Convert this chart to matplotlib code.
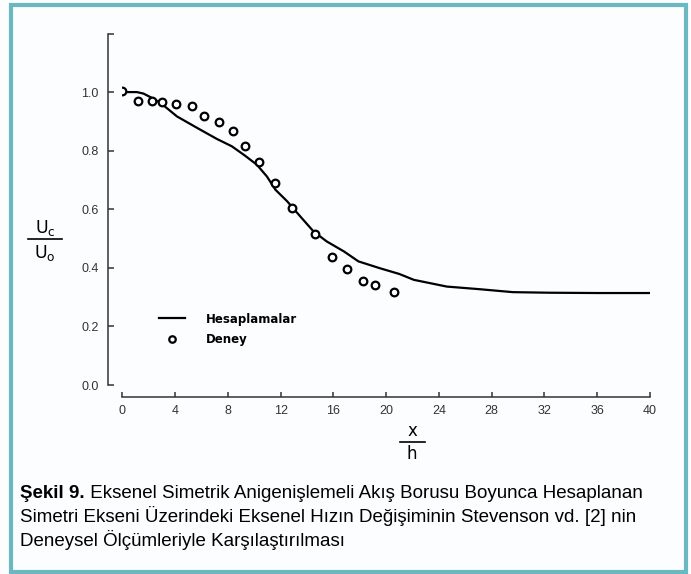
import numpy as np
import matplotlib
matplotlib.use('Agg')
import matplotlib.pyplot as plt
from matplotlib.patches import Rectangle
from matplotlib.lines import Line2D

# Deney (experiment) points
deney_x = [0.0, 1.16, 2.25, 3.03, 4.09, 5.25, 6.23, 7.30, 8.36, 9.30,
           10.36, 11.57, 12.90, 14.57, 15.91, 17.07, 18.23, 19.19, 20.61]
deney_y = [1.002, 0.971, 0.971, 0.967, 0.961, 0.951, 0.917, 0.898, 0.868, 0.817,
           0.761, 0.691, 0.605, 0.514, 0.438, 0.397, 0.355, 0.340, 0.316]

# Hesaplamalar (computed) curve
hesap_x = [0.0, 1.1, 1.6, 2.25, 2.9, 4.14, 5.66, 7.17, 8.3, 9.3, 10.2, 10.96,
           11.6, 12.5, 13.5, 14.5, 15.5, 16.8, 17.9, 19.5, 21.0, 22.1, 24.6,
           27.1, 29.6, 32.4, 36.0, 40.0]
hesap_y = [1.0, 1.0, 0.995, 0.98, 0.963, 0.917, 0.878, 0.84, 0.815, 0.783,
           0.752, 0.712, 0.667, 0.627, 0.575, 0.524, 0.49, 0.456, 0.422, 0.399,
           0.379, 0.359, 0.336, 0.327, 0.317, 0.315, 0.314, 0.314]

xticks = [0, 4, 8, 12, 16, 20, 24, 28, 32, 36, 40]
yticks = [0.0, 0.2, 0.4, 0.6, 0.8, 1.0, 1.2]
ytick_labels = ['0.0', '0.2', '0.4', '0.6', '0.8', '1.0', '']

caption_bold = 'Şekil 9.'
caption_rest = (' Eksenel Simetrik Anigenişlemeli Akış Borusu Boyunca Hesaplanan\n'
                'Simetri Ekseni Üzerindeki Eksenel Hızın Değişiminin Stevenson vd. [2] nin\n'
                'Deneysel Ölçümleriyle Karşılaştırılması')

W, H = 691, 574
fig = plt.figure(figsize=(W / 100, H / 100), dpi=100, facecolor='#fbfdfe')

sans = ['Liberation Sans', 'DejaVu Sans']

ax = fig.add_axes([122.3 / W, (H - 385) / H, 527.7 / W, 351.5 / H])
ax.patch.set_alpha(0)
ax.plot(hesap_x, hesap_y, color='black', lw=1.6, label='Hesaplamalar')
ax.plot(deney_x, deney_y, linestyle='none', marker='o', ms=5.5, mfc='white',
        mec='black', mew=1.6, label='Deney')
ax.set_xlim(0, 40)
ax.set_ylim(0, 1.2)

for s in ['top', 'right']:
    ax.spines[s].set_visible(False)
ax.spines['left'].set_position(('outward', 10))
ax.spines['bottom'].set_position(('outward', 8.6))
for s in ['left', 'bottom']:
    ax.spines[s].set_linewidth(1.1)
    ax.spines[s].set_color('#333333')

ax.set_xticks(xticks)
ax.set_xticklabels([str(t) for t in xticks], family=sans, fontsize=9, color='#333333')
ax.set_yticks(yticks)
ax.set_yticklabels(ytick_labels, family=sans, fontsize=9, color='#333333')
ax.tick_params(axis='y', direction='in', length=4.5, width=1.1, pad=7, color='#333333')
ax.tick_params(axis='x', direction='in', length=3.5, width=1.1, pad=6, color='#333333')

leg = ax.legend(loc='upper left', bbox_to_anchor=(148 / W, 1 - 302 / H),
                bbox_transform=fig.transFigure, frameon=False, handlelength=2.2,
                handletextpad=1.8, labelspacing=0.6, markerscale=0.85,
                prop={'family': 'DejaVu Sans', 'weight': 'bold', 'size': 8.5})

# axis labels as fractions
fig.text(45 / W, 1 - 228 / H, r'U$_\mathregular{c}$', ha='center', va='center', fontsize=12.5)
fig.text(45 / W, 1 - 253 / H, r'U$_\mathregular{o}$', ha='center', va='center', fontsize=12.5)
fig.add_artist(Line2D([28 / W, 62 / W], [1 - 239 / H, 1 - 239 / H], color='black', lw=1.2))
fig.text(412 / W, 1 - 431 / H, 'x', ha='center', va='center', fontsize=12)
fig.text(412 / W, 1 - 454 / H, 'h', ha='center', va='center', fontsize=12)
fig.add_artist(Line2D([400 / W, 425 / W], [1 - 442 / H, 1 - 442 / H], color='black', lw=1.2))

# caption
t1 = fig.text(20 / W, 1 - 498 / H, caption_bold, fontsize=13.5, weight='bold',
              family=sans, va='baseline')
fig.canvas.draw()
r = fig.canvas.get_renderer()
bb = t1.get_window_extent(r)
lines = caption_rest.split('\n')
fig.text(bb.x1 / W, 1 - 498 / H, lines[0], fontsize=13.5, family=sans, va='baseline')
fig.text(20 / W, 1 - 522 / H, lines[1], fontsize=13.5, family=sans, va='baseline')
fig.text(20 / W, 1 - 546 / H, lines[2], fontsize=13.5, family=sans, va='baseline')

# frame
fig.add_artist(Rectangle((11 / W, 1 - 572 / H), 675 / W, 567 / H, transform=fig.transFigure,
                         fill=False, ec='#6bb8c2', lw=3))

fig.savefig('out.png', dpi=100, facecolor=fig.get_facecolor())
